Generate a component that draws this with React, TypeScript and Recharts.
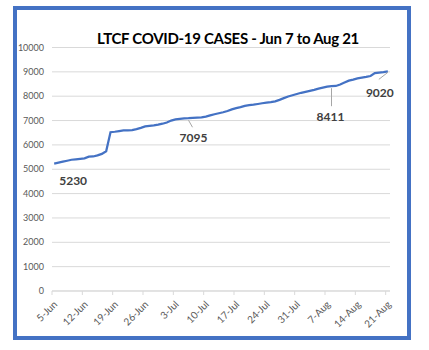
import { LineChart, Line, XAxis, YAxis, CartesianGrid, LabelList } from 'recharts';

// daily cumulative LTCF cases, 5-Jun .. 21-Aug
const cases = [
  5230, 5270, 5310, 5350, 5390, 5410, 5430, 5450, 5520, 5525,
  5570, 5630, 5740, 6520, 6540, 6570, 6600, 6600, 6605, 6650,
  6700, 6760, 6780, 6800, 6830, 6870, 6920, 7000, 7050, 7070,
  7090, 7095, 7110, 7120, 7130, 7160, 7210, 7260, 7300, 7340,
  7390, 7460, 7510, 7550, 7600, 7630, 7650, 7680, 7710, 7740,
  7760, 7790, 7850, 7920, 7990, 8040, 8090, 8140, 8180, 8220,
  8260, 8310, 8350, 8390, 8411, 8420, 8480, 8560, 8640, 8680,
  8730, 8760, 8790, 8830, 8950, 8970, 8990, 9020,
];

const tickDays = [0, 7, 14, 21, 28, 35, 42, 49, 56, 63, 70, 77];
const tickLabels = ['5-Jun', '12-Jun', '19-Jun', '26-Jun', '3-Jul', '10-Jul', '17-Jul', '24-Jul', '31-Jul', '7-Aug', '14-Aug', '21-Aug'];
const yTicks = [0, 1000, 2000, 3000, 4000, 5000, 6000, 7000, 8000, 9000, 10000];
const labelledPoints = [0, 31, 64, 77];

// points sit in the middle of each day slot (Excel date axis)
const data = cases.map((value, i) => ({ day: i + 0.5, cases: value }));

const FONT = 'Lato, "Open Sans", sans-serif';

const callouts: Record<number, { dx: number; dy: number; leader?: number[] }> = {
  0: { dx: 19, dy: 17 },
  31: { dx: 5, dy: 19, leader: [0, 2, 4, 9] },
  64: { dx: -1, dy: 30, leader: [0, 2, 0, 20] },
  77: { dx: -8, dy: 21, leader: [0, 1, -9, 8] },
};

const renderCallout = (props: any) => {
  const { x, y, index, value } = props;
  if (!labelledPoints.includes(index)) return null;
  const c = callouts[index];
  return (
    <g key={`callout-${index}`}>
      {c.leader && (
        <line
          x1={x + c.leader[0]} y1={y + c.leader[1]}
          x2={x + c.leader[2]} y2={y + c.leader[3]}
          stroke="#a6a6a6" strokeWidth={1}
        />
      )}
      <text
        x={x + c.dx} y={y + c.dy}
        textAnchor="middle" dominantBaseline="central"
        fontFamily={FONT} fontSize={12} fontWeight={700} fill="#404040"
      >
        {value}
      </text>
    </g>
  );
};

const XTick = ({ x, y, payload }: any) => {
  const i = tickDays.indexOf(payload.value);
  return (
    <g transform={`translate(${x + 6},${y + 8})`}>
      <text
        textAnchor="end" transform="rotate(-45)"
        fontFamily={FONT} fontSize={10} fill="#595959"
      >
        {tickLabels[i]}
      </text>
    </g>
  );
};

export default function App() {
  return (
    <div style={{ position: 'absolute', left: 0, top: 0, width: 429, height: 350, background: '#fff' }}>
      <div
        style={{
          position: 'absolute', left: 13, top: 6, width: 398, height: 334,
          boxSizing: 'border-box', border: '4px solid #4472C4',
        }}
      />
      <div
        style={{
          position: 'absolute', left: 0, width: 456, top: 27, textAlign: 'center',
          fontFamily: FONT, fontWeight: 700, fontSize: 15, letterSpacing: -0.3,
          color: '#000', lineHeight: '22px',
        }}
      >
        LTCF COVID-19 CASES - Jun 7 to Aug 21
      </div>
      <div style={{ position: 'absolute', left: 0, top: 0 }}>
        <LineChart width={429} height={350} data={data} margin={{ top: 47.5, right: 39, bottom: 9, left: 8 }}>
          <CartesianGrid vertical={false} stroke="#d9d9d9" />
          <XAxis
            dataKey="day" type="number" domain={[0, 78]} ticks={tickDays}
            tick={<XTick />} interval={0} height={50}
            stroke="#d9d9d9" tickSize={4} tickMargin={2}
          />
          <YAxis
            domain={[0, 10000]} ticks={yTicks} width={44}
            axisLine={false} tickLine={false} tickSize={6} tickMargin={2}
            tick={{ fontFamily: FONT, fontSize: 9, fill: '#595959' }}
          />
          <Line
            dataKey="cases" type="linear" stroke="#4472C4" strokeWidth={2.25}
            dot={false} isAnimationActive={false}
          >
            <LabelList dataKey="cases" content={renderCallout} />
          </Line>
        </LineChart>
      </div>
    </div>
  );
}
